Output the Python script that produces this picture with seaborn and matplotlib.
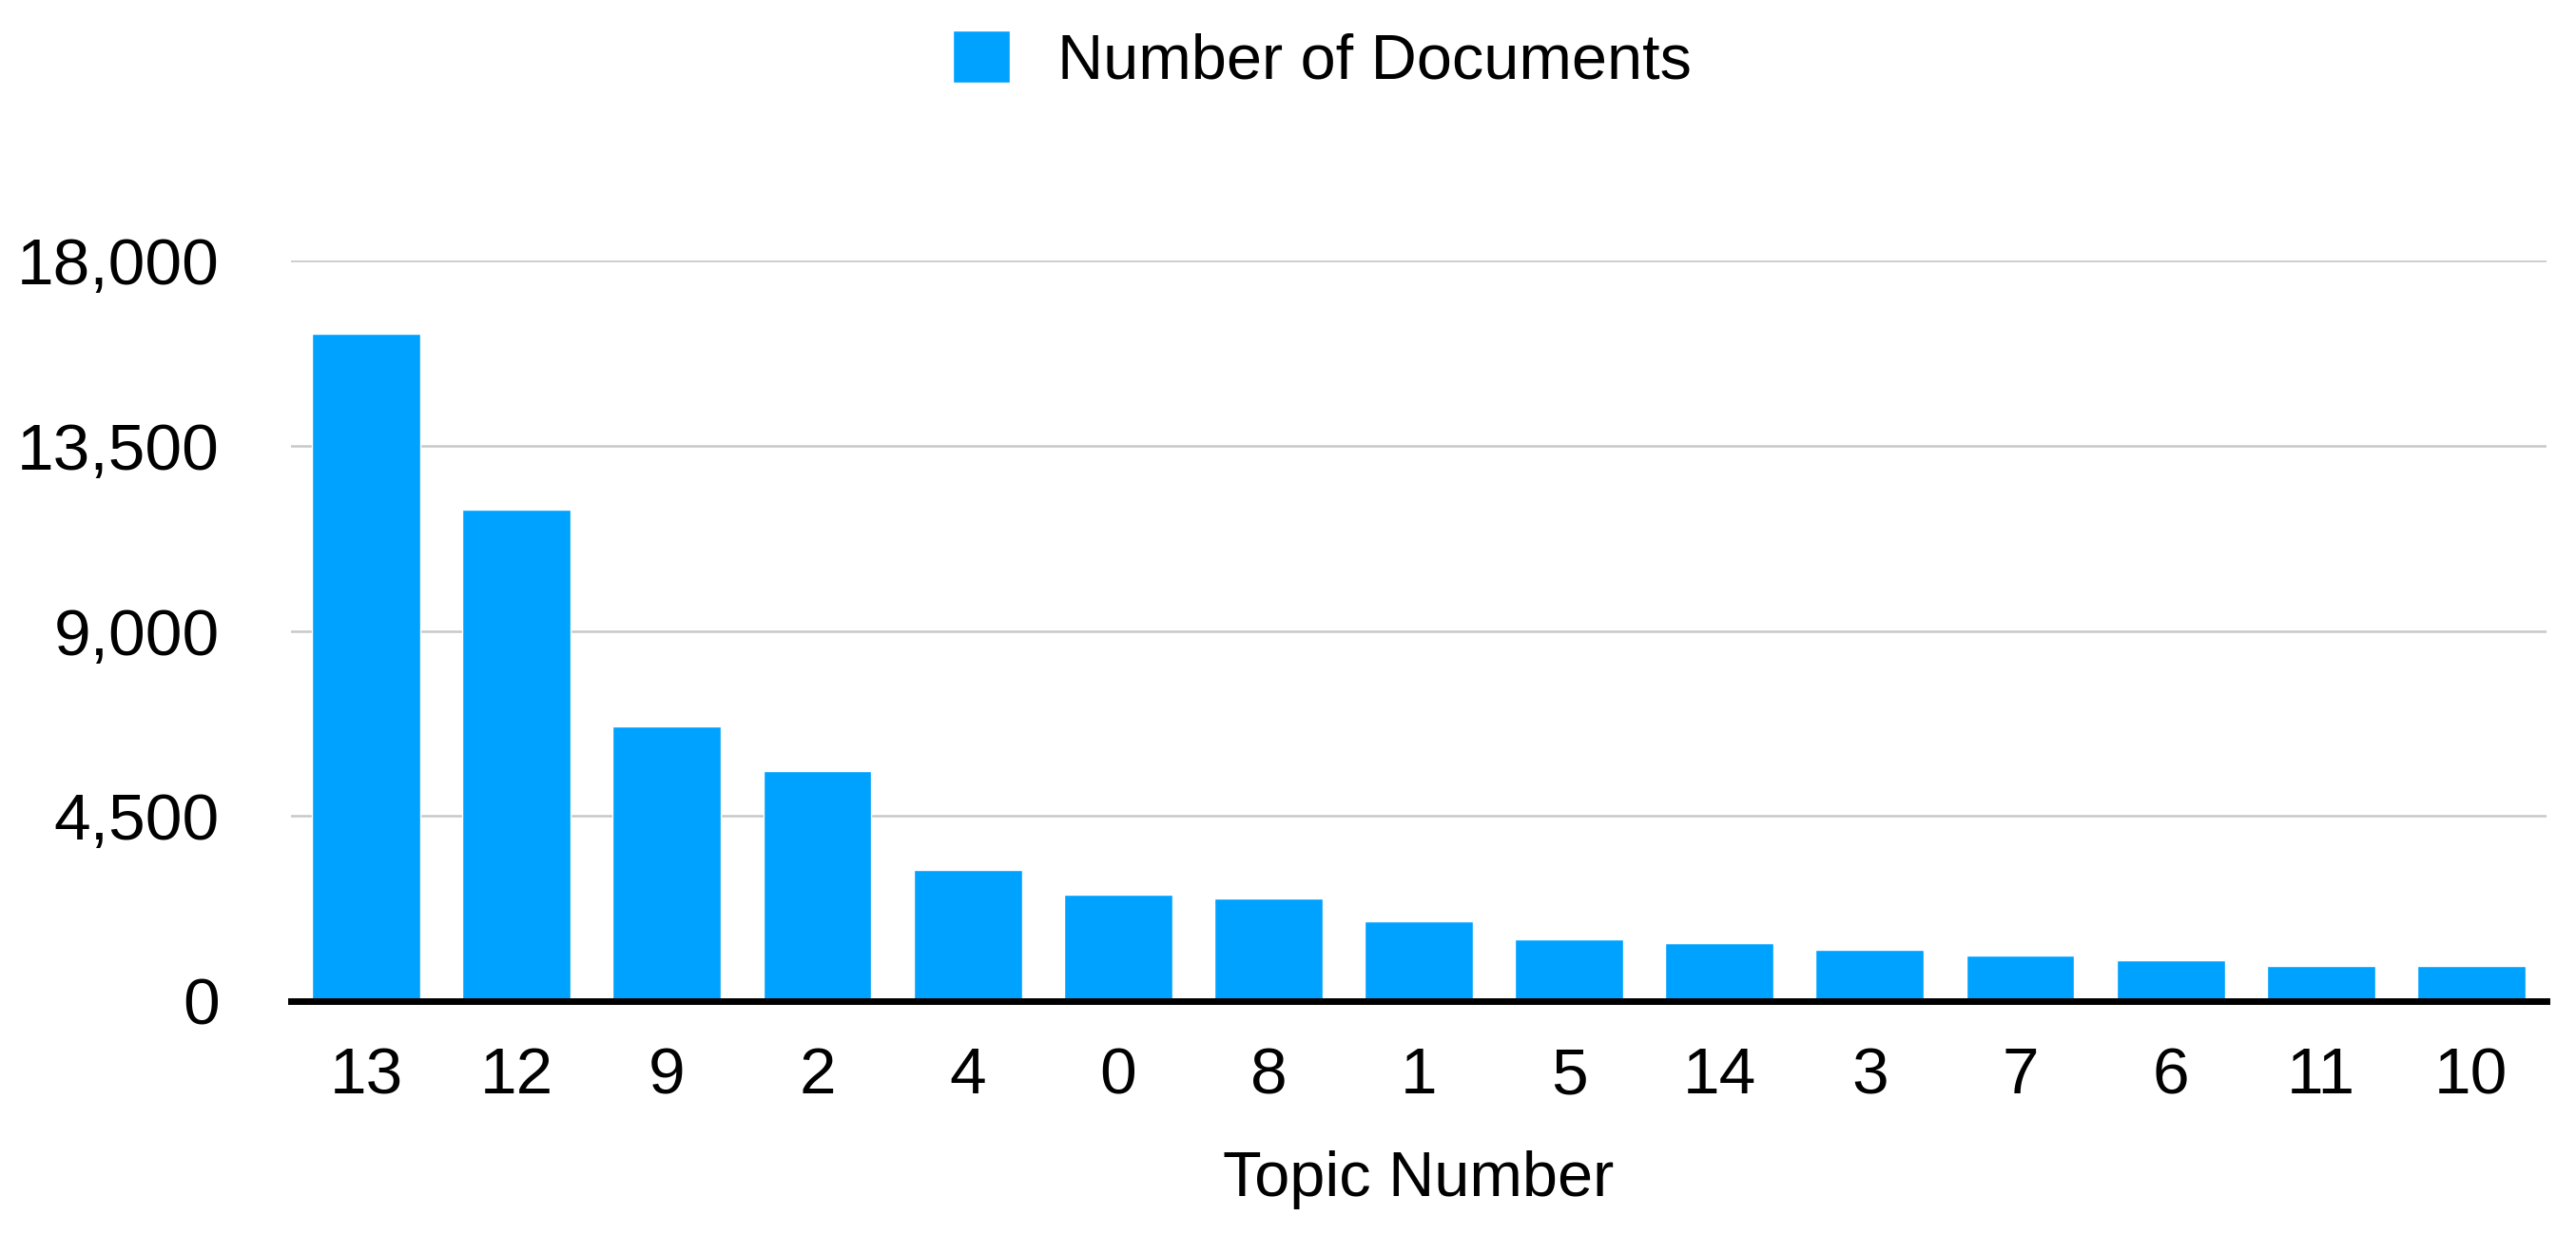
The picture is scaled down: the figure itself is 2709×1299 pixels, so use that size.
import matplotlib
matplotlib.use("Agg")
import matplotlib.pyplot as plt
import matplotlib.ticker as mticker
import seaborn as sns
import pandas as pd

# Data
topics = ["13", "12", "9", "2", "4", "0", "8", "1", "5", "14", "3", "7", "6", "11", "10"]
documents = [16220, 11950, 6670, 5600, 3200, 2580, 2500, 1930, 1500, 1420, 1240, 1110, 990, 860, 860]
y_ticks = [0, 4500, 9000, 13500, 18000]
series_name = "Number of Documents"
x_label = "Topic Number"

sns.set_theme(style="white")
plt.rcParams["font.family"] = ["Liberation Sans", "DejaVu Sans"]

df = pd.DataFrame({"Topic": topics, "Documents": documents})

fig = plt.figure(figsize=(27.09, 12.99), dpi=100)
ax = fig.add_axes([306 / 2709, 1 - 1053 / 1299, (2678 - 306) / 2709, (1053 - 274) / 1299])

FS = 48
TFS = 50
bar_color = "#00A2FF"
sns.barplot(data=df, x="Topic", y="Documents", order=topics, color=bar_color,
            width=0.72, saturation=1, ax=ax, label=series_name, zorder=3)

ax.set_ylim(0, 18000)
ax.set_xlim(-0.5, len(topics) - 0.5)
ax.set_yticks(y_ticks)
ax.yaxis.set_major_formatter(mticker.FuncFormatter(lambda v, p: f"{int(v):,}"))
ax.grid(axis="y", color="#c8c8c8", linewidth=1.8, zorder=0)
ax.grid(axis="x", visible=False)
for s in ["top", "right", "left"]:
    ax.spines[s].set_visible(False)
ax.spines["bottom"].set_color("black")
ax.spines["bottom"].set_linewidth(5)
ax.spines["bottom"].set_zorder(4)

ax.tick_params(axis="y", length=0, pad=54, labelsize=TFS, labelcolor="black")
ax.tick_params(axis="x", length=0, pad=34, labelsize=TFS, labelcolor="black")
ax.set_ylabel("")
ax.set_xlabel(x_label, fontsize=FS, color="black", labelpad=33)

leg = ax.get_legend()
if leg is not None:
    leg.remove()
handles, labels = ax.get_legend_handles_labels()
fig.legend(handles[:1], labels[:1], loc="center", bbox_to_anchor=(1390 / 2709, 1 - 64 / 1299),
           frameon=False, fontsize=FS, handlelength=0.9, handleheight=0.9,
           handletextpad=0.75, labelcolor="black")

fig.savefig("out.png", dpi=100, facecolor="white")
